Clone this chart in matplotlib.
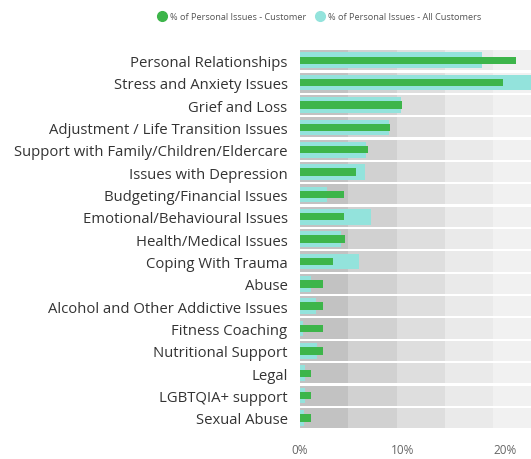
import matplotlib
matplotlib.use("Agg")
import matplotlib.pyplot as plt
from matplotlib.lines import Line2D
import numpy as np

categories = [
    "Personal Relationships", "Stress and Anxiety Issues", "Grief and Loss",
    "Adjustment / Life Transition Issues", "Support with Family/Children/Eldercare",
    "Issues with Depression", "Budgeting/Financial Issues",
    "Emotional/Behavioural Issues", "Health/Medical Issues", "Coping With Trauma",
    "Abuse", "Alcohol and Other Addictive Issues", "Fitness Coaching",
    "Nutritional Support", "Legal", "LGBTQIA+ support", "Sexual Abuse",
]
customer = [21.0, 19.8, 9.9, 8.8, 6.6, 5.5, 4.3, 4.3, 4.4, 3.2,
            2.2, 2.2, 2.2, 2.2, 1.1, 1.1, 1.1]
all_customers = [17.7, 23.5, 9.8, 8.7, 6.4, 6.3, 2.6, 6.9, 4.0, 5.7,
                 1.1, 1.6, 0.3, 1.7, 0.5, 0.5, 0.4]
ticks = [0, 10, 20]
tick_labels = ["0%", "10%", "20%"]

band_max = 23.5
band_colors = ["#c2c2c2", "#d1d1d1", "#dedede", "#eaeaea", "#f1f1f1"]
green = "#3db54a"
teal = "#93e3dc"

plt.rcParams['font.family'] = ['Open Sans', 'DejaVu Sans']

fig = plt.figure(figsize=(5.31, 4.60), dpi=100)
ax = fig.add_axes([0.565, 0.065, 0.435, 0.826])

y = np.arange(len(categories))
step = band_max / len(band_colors)
for i, c in enumerate(band_colors):
    ax.barh(y, step, left=i * step, height=0.9, color=c, linewidth=0)

ax.barh(y, all_customers, height=0.7, color=teal, linewidth=0)
ax.barh(y, customer, height=0.33, color=green, linewidth=0)

ax.set_xlim(0, 22.5)
ax.set_ylim(len(categories) - 0.5, -0.5)
ax.set_yticks(y)
ax.set_yticklabels(categories, fontsize=10.7, color="#333333")
ax.set_xticks(ticks)
ax.set_xticklabels(tick_labels, fontsize=8.5, color="#666666")
ax.tick_params(length=0)
ax.tick_params(axis="y", pad=9)
ax.tick_params(axis="x", pad=10)
for s in ax.spines.values():
    s.set_visible(False)

handles = [
    Line2D([], [], marker="o", linestyle="", markersize=7, color=green),
    Line2D([], [], marker="o", linestyle="", markersize=7, color=teal),
]
fig.legend(handles, ["% of Personal Issues - Customer", "% of Personal Issues - All Customers"],
           loc="center", bbox_to_anchor=(0.597, 0.962), ncol=2, frameon=False,
           fontsize=6.6, handletextpad=-0.1, columnspacing=0.4, labelcolor="#555555")

fig.savefig("out.png", dpi=100)
